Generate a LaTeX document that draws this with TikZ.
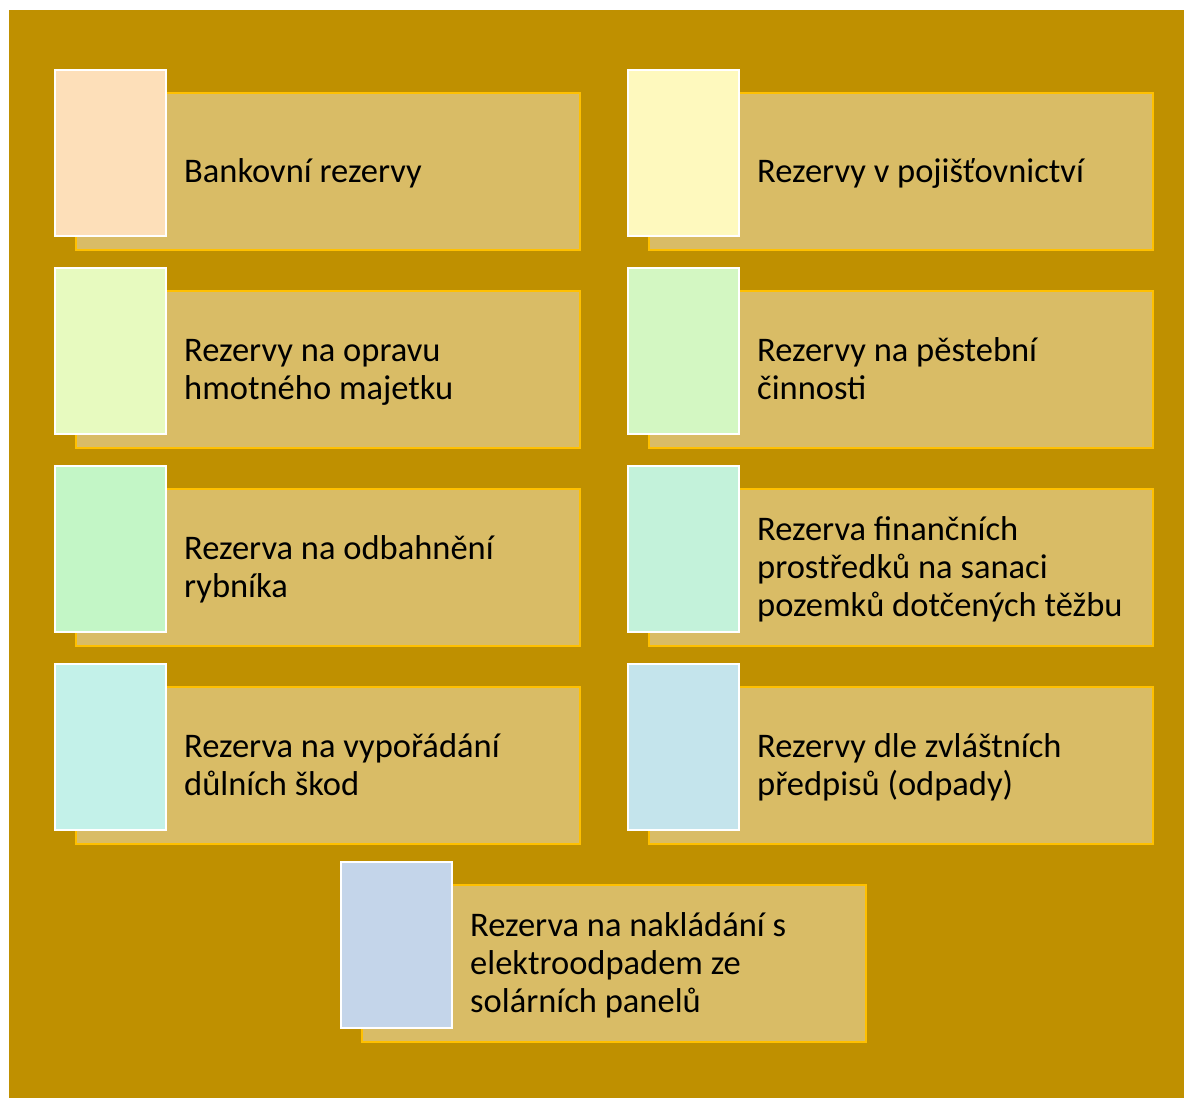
\documentclass[tikz,border=0pt]{standalone}
\usepackage{fontspec}
\setmainfont{Carlito}
\definecolor{bggold}{HTML}{BF9000}
\definecolor{boxfill}{HTML}{D9BC66}
\definecolor{boxline}{HTML}{FFC000}
\definecolor{cA}{HTML}{FDDFB9}
\definecolor{cB}{HTML}{FEF9BE}
\definecolor{cC}{HTML}{E7FABF}
\definecolor{cD}{HTML}{D3F7C2}
\definecolor{cE}{HTML}{C3F6C6}
\definecolor{cF}{HTML}{C3F2DA}
\definecolor{cG}{HTML}{C3F1E9}
\definecolor{cH}{HTML}{C4E4EC}
\definecolor{cI}{HTML}{C4D5EA}
\tikzset{
  textbox/.style={fill=boxfill, draw=boxline, line width=1.5pt},
  tabbox/.style={draw=white, line width=1.5pt},
  label/.style={anchor=west, inner sep=0pt, align=left, text=black,
    font=\fontsize{34.5}{38}\selectfont},
}
\newcommand\rezitem[5]{% name, x, y, color, text
  \draw[textbox] (#2+21,#3+23) rectangle (#2+525,#3+180);
  \fill[#4, tabbox] (#2,#3) rectangle (#2+111,#3+166);
  \node[label] (#1) at (#2+129,#3+101.5) {\vphantom{Ř}#5\vphantom{y}};
}
\begin{document}
\begin{tikzpicture}[x=1pt,y=-1pt]
\useasboundingbox (0,0) rectangle (1184,1098);
\fill[bggold] (9,10) rectangle (1184,1098);
\rezitem{a}{55}{70}{cA}{Bankovní rezervy}
\rezitem{b}{628}{70}{cB}{Rezervy v pojišťovnictví}
\rezitem{c}{55}{268}{cC}{Rezervy na opravu\\hmotného majetku}
\rezitem{d}{628}{268}{cD}{Rezervy na pěstební\\činnosti}
\rezitem{e}{55}{466}{cE}{Rezerva na odbahnění\\rybníka}
\rezitem{f}{628}{466}{cF}{Rezerva finančních\\prostředků na sanaci\\pozemků dotčených těžbu}
\rezitem{g}{55}{664}{cG}{Rezerva na vypořádání\\důlních škod}
\rezitem{h}{628}{664}{cH}{Rezervy dle zvláštních\\předpisů (odpady)}
\rezitem{i}{341}{862}{cI}{Rezerva na nakládání s\\elektroodpadem ze\\solárních panelů}
\end{tikzpicture}
\end{document}
